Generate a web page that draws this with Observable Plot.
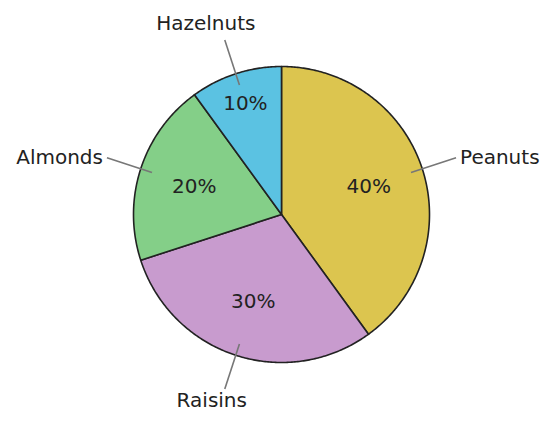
<!DOCTYPE html>
<html><head><meta charset="utf-8">
<script src="https://cdn.jsdelivr.net/npm/d3@7"></script>
<script src="https://cdn.jsdelivr.net/npm/@observablehq/plot@0.6"></script>
<style>body{margin:0;background:#fff}svg{font-family:"DejaVu Sans",sans-serif}</style>
</head><body><div id="chart"></div>
<script>
const categories = ["Peanuts", "Raisins", "Almonds", "Hazelnuts"];
const values = [40, 30, 20, 10];
const percentLabels = ["40%", "30%", "20%", "10%"];
const colors = ["#dcc54f", "#c89bce", "#84cf88", "#5bc2e2"];

const arcs = d3.pie().sort(null).value(d => d)(values);
const slicePts = [];
const info = [];
arcs.forEach((a, i) => {
  const cat = categories[i];
  slicePts.push({cat, x: 0, y: 0});
  const n = Math.max(4, Math.ceil((a.endAngle - a.startAngle) / 0.01));
  for (let k = 0; k <= n; k++) {
    const t = a.startAngle + (a.endAngle - a.startAngle) * k / n;
    slicePts.push({cat, x: Math.sin(t), y: Math.cos(t)});
  }
  const m = (a.startAngle + a.endAngle) / 2;
  const s = Math.sin(m), c = Math.cos(m);
  const share = values[i] / d3.sum(values);
  const pr = share < 0.15 ? 0.79 : 0.62;
  const side = Math.abs(s) > 0.7 ? (s > 0 ? "right" : "left") : (c > 0 ? "top" : "bottom");
  info.push({cat, pct: percentLabels[i], px: pr * s, py: pr * c,
    x1: 0.92 * s, y1: 0.92 * c, x2: 1.24 * s, y2: 1.24 * c, side});
});

const fs = 20;
const plot = Plot.plot({
  width: 554, height: 439,
  marginLeft: 133, marginRight: 125, marginTop: 66, marginBottom: 77,
  x: {domain: [-1, 1], axis: null},
  y: {domain: [-1, 1], axis: null},
  color: {domain: categories, range: colors},
  style: {fontFamily: "DejaVu Sans", background: "#fff"},
  marks: [
    Plot.line(slicePts, {x: "x", y: "y", z: "cat", fill: "cat", stroke: "#222", strokeWidth: 1.6, curve: "linear-closed", strokeLinejoin: "round"}),
    Plot.link(info, {x1: "x1", y1: "y1", x2: "x2", y2: "y2", stroke: "#777", strokeWidth: 1.6}),
    Plot.text(info, {x: "px", y: "py", text: "pct", fontSize: fs, fill: "#222"}),
    Plot.text(info, {filter: d => d.side === "right", x: "x2", y: "y2", text: "cat", textAnchor: "start", dx: 4, fontSize: fs, fill: "#222"}),
    Plot.text(info, {filter: d => d.side === "left", x: "x2", y: "y2", text: "cat", textAnchor: "end", dx: -4, fontSize: fs, fill: "#222"}),
    Plot.text(info, {filter: d => d.side === "top", x: "x2", y: "y2", text: "cat", dx: -19, dy: -16, fontSize: fs, fill: "#222"}),
    Plot.text(info, {filter: d => d.side === "bottom", x: "x2", y: "y2", text: "cat", dx: -13, dy: 12, fontSize: fs, fill: "#222"})
  ]
});
document.getElementById("chart").appendChild(plot);
</script></body></html>
